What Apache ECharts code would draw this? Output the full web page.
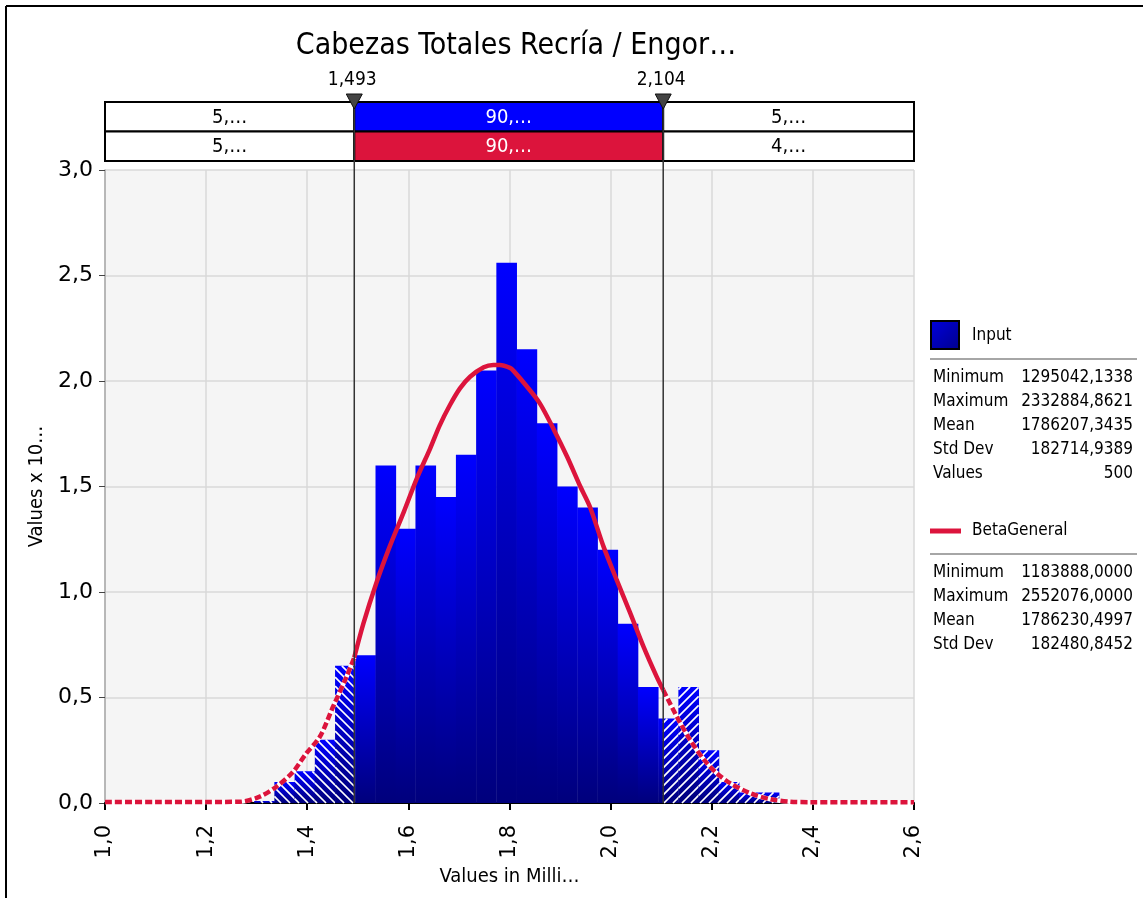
<!DOCTYPE html>
<html><head><meta charset="utf-8">
<script src="https://cdn.jsdelivr.net/npm/echarts/dist/echarts.min.js"></script>
<style>html,body{margin:0;padding:0;background:#fff}#c{width:1143px;height:898px}</style>
</head><body><div id="c"></div>
<script>
const chartTitle = 'Cabezas Totales Recría / Engor…';
const xAxisTitle = 'Values in Milli…';
const yAxisTitle = 'Values x 10…';
const xTickLabels = ['1,0','1,2','1,4','1,6','1,8','2,0','2,2','2,4','2,6'];
const yTickLabels = ['0,0','0,5','1,0','1,5','2,0','2,5','3,0'];
const binEdges = [1.295,1.335,1.375,1.415,1.455,1.495,1.535,1.575,1.614,1.654,1.694,1.734,1.774,1.814,1.854,1.894,1.934,1.974,2.014,2.054,2.094,2.134,2.174,2.214,2.254,2.294,2.333];
const binHeights = [0.01,0.10,0.15,0.30,0.65,0.70,1.60,1.30,1.60,1.45,1.65,2.05,2.56,2.15,1.80,1.50,1.40,1.20,0.85,0.55,0.40,0.55,0.25,0.10,0.05,0.05];
const delimiters = [1.493, 2.104];
const delimiterLabels = ['1,493','2,104'];
const inputRowLabels = ['5,…','90,…','5,…'];
const fitRowLabels = ['5,…','90,…','4,…'];
const curveX = [1.00,1.10,1.20,1.267,1.306,1.339,1.372,1.398,1.425,1.451,1.478,1.493,1.511,1.537,1.563,1.591,1.617,1.643,1.662,1.682,1.702,1.722,1.749,1.768,1.781,1.801,1.808,1.834,1.860,1.888,1.914,1.940,1.959,1.986,2.012,2.039,2.065,2.091,2.104,2.131,2.157,2.185,2.210,2.237,2.276,2.316,2.355,2.395,2.50,2.60];
const curveY = [0.005,0.005,0.005,0.006,0.03,0.077,0.148,0.235,0.314,0.456,0.60,0.69,0.85,1.045,1.215,1.38,1.54,1.68,1.79,1.885,1.965,2.02,2.065,2.076,2.076,2.062,2.048,1.975,1.894,1.768,1.641,1.50,1.404,1.215,1.057,0.899,0.741,0.599,0.536,0.409,0.30,0.204,0.141,0.093,0.046,0.018,0.006,0.004,0.004,0.004];
const inputName = 'Input';
const fitName = 'BetaGeneral';
const inputStatNames = ['Minimum','Maximum','Mean','Std Dev','Values'];
const inputStatValues = ['1295042,1338','2332884,8621','1786207,3435','182714,9389','500'];
const fitStatNames = ['Minimum','Maximum','Mean','Std Dev'];
const fitStatValues = ['1183888,0000','2552076,0000','1786230,4997','182480,8452'];

const FONT = "'DejaVu Sans Condensed', 'DejaVu Sans', sans-serif";
const TICKFONT = "'DejaVu Sans', sans-serif";
const RED = '#dc143c';
const X_MIN = 1.0, X_MAX = 2.6;

const binPieces = [];
for (let i = 0; i < binHeights.length; i++) {
  const cuts = [binEdges[i]];
  delimiters.forEach(d => { if (d > binEdges[i] && d < binEdges[i+1]) cuts.push(d); });
  cuts.push(binEdges[i+1]);
  for (let j = 0; j < cuts.length - 1; j++) {
    const mid = (cuts[j] + cuts[j+1]) / 2;
    const side = mid < delimiters[0] ? -1 : (mid > delimiters[1] ? 1 : 0);
    binPieces.push([cuts[j], cuts[j+1], binHeights[i], side]);
  }
}
const curvePts = curveX.map((x, i) => [x, curveY[i]]);
const leftPts = curvePts.filter(p => p[0] <= delimiters[0]);
const midPts = curvePts.filter(p => p[0] >= delimiters[0] && p[0] <= delimiters[1]);
const rightPts = curvePts.filter(p => p[0] >= delimiters[1]);

function blueGrad() {
  return new echarts.graphic.LinearGradient(0,0,0,1,[{offset:0,color:'#0000ff'},{offset:1,color:'#00007c'}]);
}

function renderBin(params, api) {
  const x0 = api.value(0), x1 = api.value(1), h = api.value(2), side = api.value(3);
  const pT = api.coord([x0, h]), pB = api.coord([x1, 0]);
  const rx0 = pT[0], ry0 = pT[1], rx1 = pB[0], ry1 = pB[1];
  const children = [{type:'rect', shape:{x:rx0, y:ry0, width:rx1-rx0+0.4, height:ry1-ry0}, style:{fill: blueGrad()}}];
  const s = 9;
  if (side < 0) {
    const cMin = ry0 - rx1, cMax = ry1 - rx0;
    for (let k = Math.ceil(cMin/s); k*s <= cMax; k++) {
      const c = k*s;
      const xa = Math.max(rx0, ry0 - c), xb = Math.min(rx1, ry1 - c);
      if (xb - xa > 0.3) children.push({type:'line', shape:{x1:xa,y1:xa+c,x2:xb,y2:xb+c}, style:{stroke:'#fff', lineWidth:1.7}});
    }
  } else if (side > 0) {
    const cMin = ry0 + rx0, cMax = ry1 + rx1;
    for (let k = Math.ceil(cMin/s); k*s <= cMax; k++) {
      const c = k*s;
      const xa = Math.max(rx0, c - ry1), xb = Math.min(rx1, c - ry0);
      if (xb - xa > 0.3) children.push({type:'line', shape:{x1:xa,y1:c-xa,x2:xb,y2:c-xb}, style:{stroke:'#fff', lineWidth:1.7}});
    }
  }
  return {type:'group', children};
}

const cellBounds = [X_MIN, delimiters[0], delimiters[1], X_MAX];
const cellData = [];
[inputRowLabels, fitRowLabels].forEach((labels, r) => {
  labels.forEach((lab, c) => cellData.push([cellBounds[c], cellBounds[c+1], r, c, lab]));
});
function renderCell(params, api) {
  const x0 = api.value(0), x1 = api.value(1), r = api.value(2), c = api.value(3);
  const lab = cellData[params.dataIndex][4];
  const p0 = api.coord([x0, 2 - r]), p1 = api.coord([x1, 1 - r]);
  let fill = '#fff', tcol = '#000';
  if (c === 1) { fill = r === 0 ? '#0000ff' : RED; tcol = '#fff'; }
  return {type:'group', children:[
    {type:'rect', shape:{x:p0[0], y:p0[1], width:p1[0]-p0[0], height:p1[1]-p0[1]}, style:{fill, stroke:'#000', lineWidth:2}},
    {type:'text', style:{text:lab, x:(p0[0]+p1[0])/2, y:(p0[1]+p1[1])/2+1, align:'center', verticalAlign:'middle', fill:tcol, font:'20px ' + FONT}}
  ]};
}

const chart = echarts.init(document.getElementById('c'));
const option = {
  backgroundColor: '#fff',
  animation: false,
  title: {text: chartTitle, left: 511, top: 26, textAlign: 'center', textStyle:{fontFamily: FONT, fontSize: 30, fontWeight: 'normal', color:'#000'}},
  grid: [
    {left:105, top:170, width:809, height:633, show:true, backgroundColor:'#f5f5f5', borderWidth:0},
    {left:105, top:102, width:809, height:59, show:false}
  ],
  xAxis: [
    {type:'value', gridIndex:0, min:X_MIN, max:X_MAX, interval:0.2,
     name:xAxisTitle, nameLocation:'middle', nameGap:57, nameTextStyle:{fontFamily:FONT, fontSize:20, color:'#000'},
     axisLine:{show:true, lineStyle:{color:'#000', width:2}}, axisTick:{show:true, length:7, lineStyle:{color:'#000', width:2}},
     axisLabel:{rotate:90, margin:22, fontFamily:TICKFONT, fontSize:21, color:'#000', formatter:(v)=>xTickLabels[Math.round((v-X_MIN)/0.2)]},
     splitLine:{show:true, lineStyle:{color:'#d8d8d8', width:1.5}}},
    {type:'value', gridIndex:1, min:X_MIN, max:X_MAX, show:false}
  ],
  yAxis: [
    {type:'value', gridIndex:0, min:0, max:3, interval:0.5,
     name:yAxisTitle, nameLocation:'middle', nameGap:57, nameTextStyle:{fontFamily:FONT, fontSize:20, color:'#000'},
     axisLine:{show:true, lineStyle:{color:'#aaa', width:1.5}}, axisTick:{show:true, length:6, lineStyle:{color:'#444'}},
     axisLabel:{margin:12, fontFamily:TICKFONT, fontSize:22, color:'#000', formatter:(v)=>yTickLabels[Math.round(v/0.5)]},
     splitLine:{show:true, lineStyle:{color:'#d8d8d8', width:1.5}}},
    {type:'value', gridIndex:1, min:0, max:2, show:false}
  ],
  series: [
    {type:'custom', xAxisIndex:0, yAxisIndex:0, renderItem:renderBin, data:binPieces, encode:{x:[0,1], y:2}, z:2},
    {type:'line', xAxisIndex:0, yAxisIndex:0, data:leftPts, showSymbol:false, smooth:0.3, lineStyle:{color:'#fff', width:4.5}, z:3},
    {type:'line', xAxisIndex:0, yAxisIndex:0, data:leftPts, showSymbol:false, smooth:0.3, lineStyle:{color:RED, width:4.5, type:[7,3]}, z:4},
    {type:'line', xAxisIndex:0, yAxisIndex:0, data:midPts, showSymbol:false, smooth:0.3, lineStyle:{color:RED, width:4.5}, z:4},
    {type:'line', xAxisIndex:0, yAxisIndex:0, data:rightPts, showSymbol:false, smooth:0.3, lineStyle:{color:'#fff', width:4.5}, z:3},
    {type:'line', xAxisIndex:0, yAxisIndex:0, data:rightPts, showSymbol:false, smooth:0.3, lineStyle:{color:RED, width:4.5, type:[7,3]}, z:4},
    {type:'custom', xAxisIndex:1, yAxisIndex:1, renderItem:renderCell, data:cellData.map(d=>d.slice(0,4)), z:2}
  ]
};
chart.setOption(option);

const g = [];
g.push({type:'line', shape:{x1:6, y1:6, x2:1143, y2:6}, style:{stroke:'#000', lineWidth:2}, z:100});
g.push({type:'line', shape:{x1:6, y1:6, x2:6, y2:898}, style:{stroke:'#000', lineWidth:2}, z:100});
const yBottom = chart.convertToPixel({gridIndex:0}, [X_MIN, 0])[1];
delimiters.forEach((d, i) => {
  const px = chart.convertToPixel({gridIndex:0}, [d, 0])[0];
  g.push({type:'line', shape:{x1:px, y1:100, x2:px, y2:yBottom}, style:{stroke:'#333', lineWidth:1.5}, z:100});
  g.push({type:'polygon', shape:{points:[[px-8,94],[px+8,94],[px,109]]}, style:{fill:'#444', stroke:'#111', lineWidth:1}, z:101});
  g.push({type:'text', style:{text:delimiterLabels[i], x:px-2, y:80, align:'center', verticalAlign:'middle', font:'19px ' + FONT, fill:'#000'}, z:101});
});
const LX = 930, VR = 1133;
g.push({type:'rect', shape:{x:LX+1, y:321, width:28, height:28}, style:{fill:new echarts.graphic.LinearGradient(0,0,1,1,[{offset:0,color:'#0000e0'},{offset:1,color:'#00008a'}]), stroke:'#000', lineWidth:2}, z:100});
g.push({type:'text', style:{text:inputName, x:972, y:336, verticalAlign:'middle', font:'17px ' + FONT, fill:'#000'}, z:100});
g.push({type:'line', shape:{x1:LX, y1:359, x2:1137, y2:359}, style:{stroke:'#888', lineWidth:1.5}, z:100});
inputStatNames.forEach((n, i) => {
  const y = 378 + i*23.8;
  g.push({type:'text', style:{text:n, x:933, y, verticalAlign:'middle', font:'17px ' + FONT, fill:'#000'}, z:100});
  g.push({type:'text', style:{text:inputStatValues[i], x:VR, y, align:'right', verticalAlign:'middle', font:'17px ' + FONT, fill:'#000'}, z:100});
});
g.push({type:'rect', shape:{x:LX, y:528.5, width:31, height:5}, style:{fill:RED}, z:100});
g.push({type:'text', style:{text:fitName, x:972, y:531, verticalAlign:'middle', font:'17px ' + FONT, fill:'#000'}, z:100});
g.push({type:'line', shape:{x1:LX, y1:554, x2:1137, y2:554}, style:{stroke:'#888', lineWidth:1.5}, z:100});
fitStatNames.forEach((n, i) => {
  const y = 573 + i*23.8;
  g.push({type:'text', style:{text:n, x:933, y, verticalAlign:'middle', font:'17px ' + FONT, fill:'#000'}, z:100});
  g.push({type:'text', style:{text:fitStatValues[i], x:VR, y, align:'right', verticalAlign:'middle', font:'17px ' + FONT, fill:'#000'}, z:100});
});
chart.setOption({graphic: g});
</script></body></html>
